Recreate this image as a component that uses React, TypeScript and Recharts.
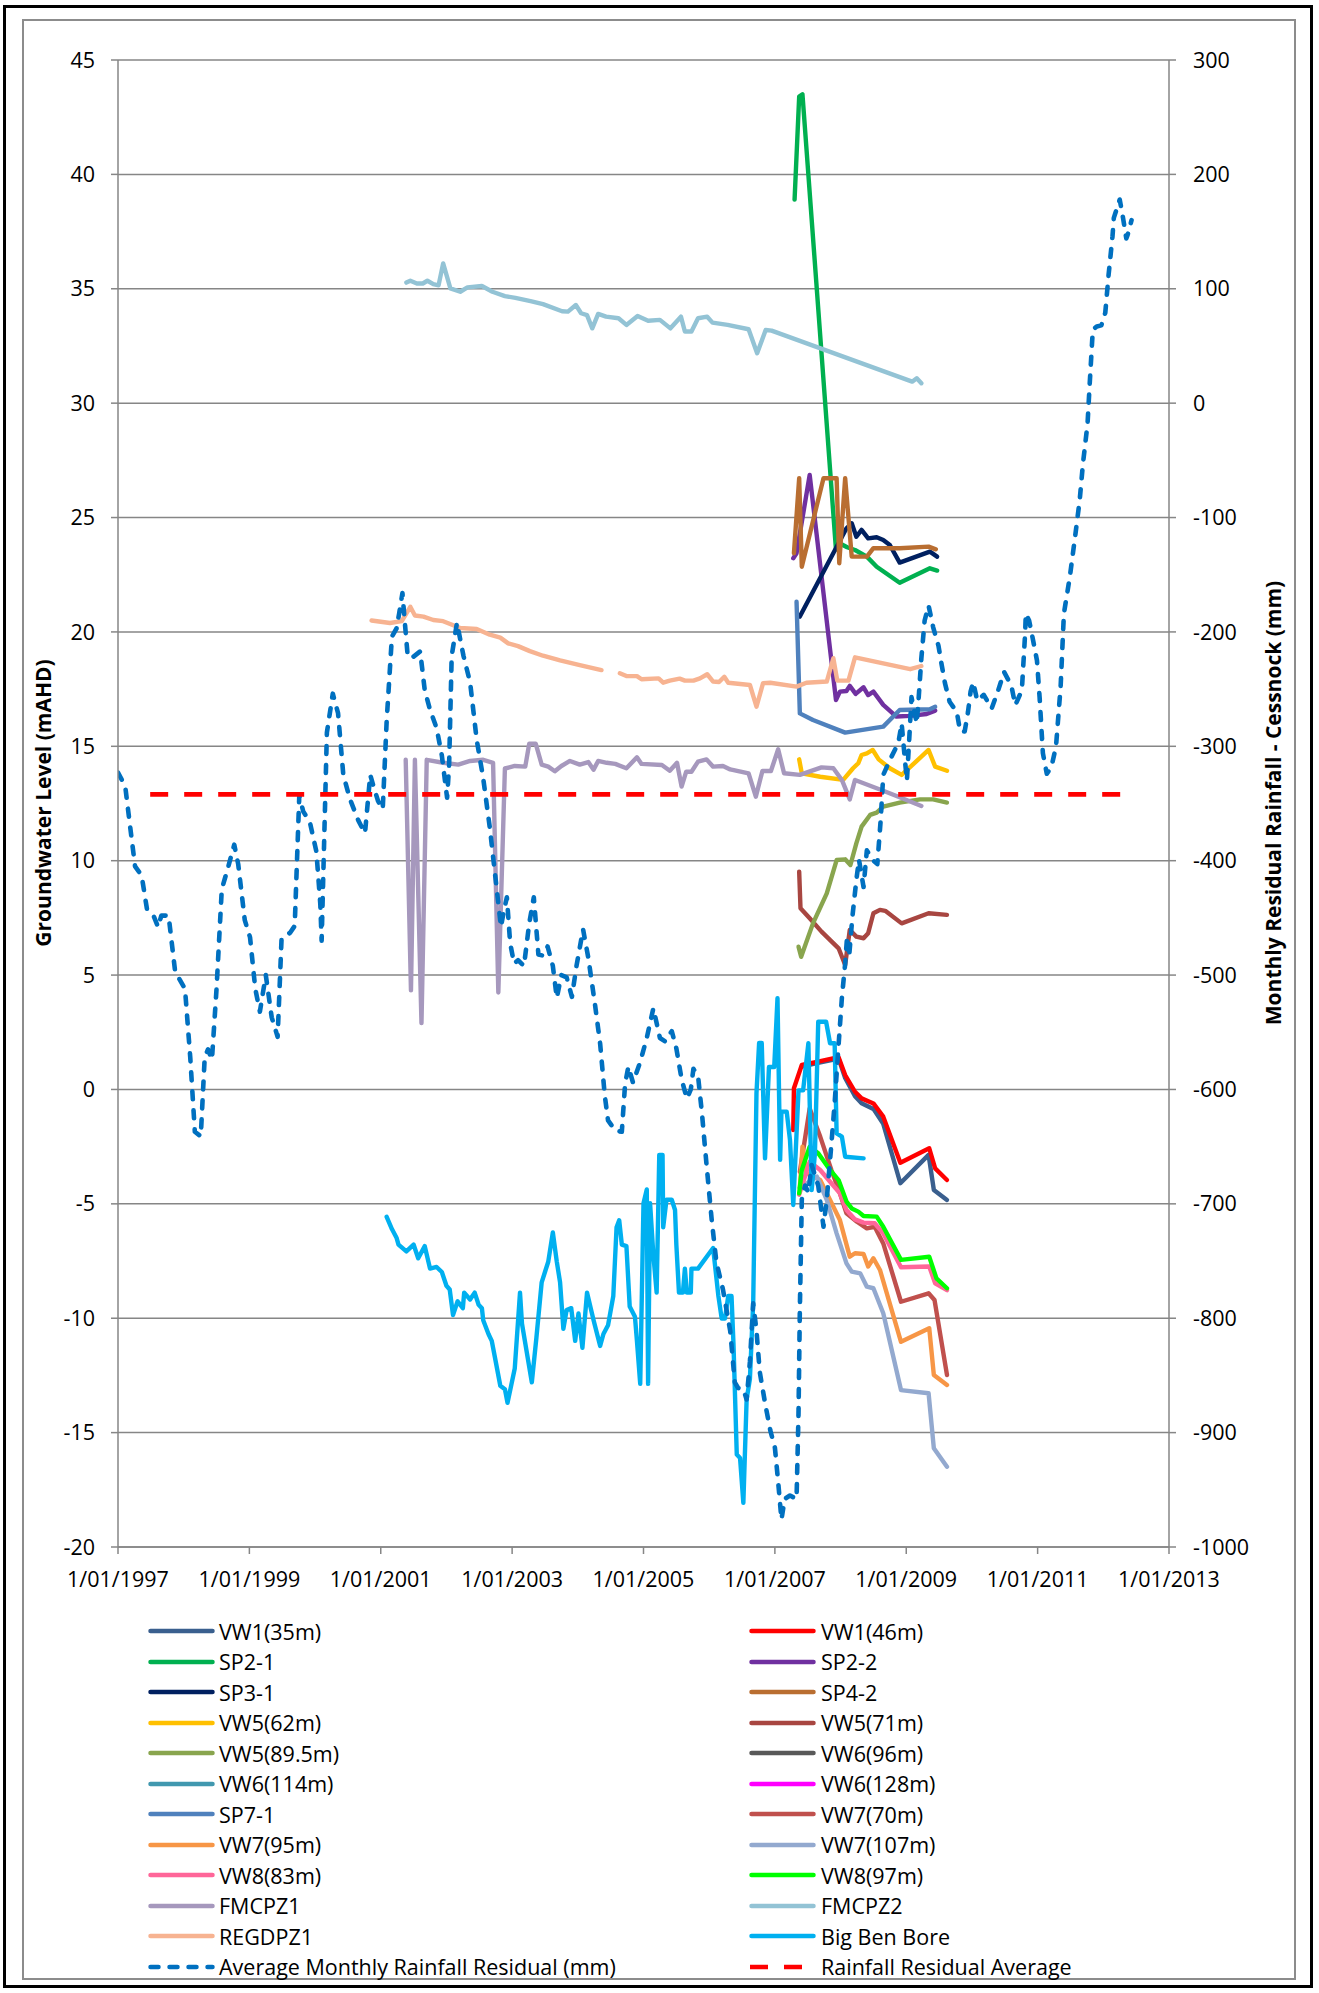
import React from 'react';
import { LineChart, Line, XAxis, YAxis, CartesianGrid } from 'recharts';

type Pt = [number, number | null];

// axis ticks
const yearTicks = [1997, 1999, 2001, 2003, 2005, 2007, 2009, 2011, 2013];
const levelTicks = [-20, -15, -10, -5, 0, 5, 10, 15, 20, 25, 30, 35, 40, 45];
const rainTicks = [-1000, -900, -800, -700, -600, -500, -400, -300, -200, -100, 0, 100, 200, 300];

// groundwater levels (mAHD), x = decimal year
const vw1_35: Pt[] = [[2007.41, 1.0], [2007.64, 1.15], [2007.97, 1.35], [2008.07, 0.5], [2008.22, -0.3], [2008.32, -0.6], [2008.5, -0.85], [2008.65, -1.5], [2008.91, -4.1], [2009.34, -2.86], [2009.42, -4.39], [2009.62, -4.83]];
const vw1_46: Pt[] = [[2007.28, -1.77], [2007.29, 0.05], [2007.41, 1.07], [2007.64, 1.21], [2007.97, 1.41], [2008.07, 0.63], [2008.22, -0.1], [2008.32, -0.39], [2008.5, -0.61], [2008.65, -1.19], [2008.91, -3.2], [2009.35, -2.57], [2009.44, -3.45], [2009.62, -3.96]];
const sp2_1: Pt[] = [[2007.3, 38.9], [2007.37, 43.4], [2007.42, 43.5], [2007.93, 23.6], [2007.97, 23.9], [2008.1, 23.7], [2008.22, 23.58], [2008.4, 23.29], [2008.55, 22.85], [2008.9, 22.15], [2009.36, 22.78], [2009.47, 22.68]];
const sp2_2: Pt[] = [[2007.28, 23.22], [2007.33, 23.44], [2007.53, 26.86], [2007.93, 17.02], [2007.99, 17.39], [2008.09, 17.42], [2008.14, 17.64], [2008.23, 17.29], [2008.35, 17.58], [2008.42, 17.24], [2008.5, 17.39], [2008.65, 16.81], [2008.85, 16.3], [2009.06, 16.33], [2009.31, 16.41], [2009.44, 16.56]];
const sp3_1: Pt[] = [[2007.38, 20.67], [2008.09, 24.53], [2008.17, 24.75], [2008.24, 24.16], [2008.32, 24.46], [2008.42, 24.09], [2008.55, 24.14], [2008.65, 24.02], [2008.75, 23.8], [2008.9, 23.03], [2009.36, 23.51], [2009.47, 23.29]];
const sp4_2: Pt[] = [[2007.29, 23.44], [2007.37, 26.72], [2007.41, 22.85], [2007.74, 26.72], [2007.94, 26.72], [2007.98, 23.0], [2008.07, 26.72], [2008.17, 23.29], [2008.4, 23.29], [2008.5, 23.66], [2008.9, 23.66], [2009.34, 23.73], [2009.45, 23.61]];
const vw5_62: Pt[] = [[2007.37, 14.43], [2007.41, 13.82], [2007.69, 13.67], [2008.04, 13.53], [2008.19, 14.04], [2008.27, 14.26], [2008.32, 14.62], [2008.4, 14.69], [2008.49, 14.84], [2008.58, 14.43], [2008.75, 14.04], [2008.93, 13.75], [2009.34, 14.84], [2009.44, 14.11], [2009.62, 13.93]];
const vw5_71: Pt[] = [[2007.37, 9.52], [2007.39, 7.92], [2007.53, 7.48], [2007.71, 6.9], [2007.97, 6.17], [2008.07, 5.44], [2008.14, 6.97], [2008.24, 6.68], [2008.35, 6.61], [2008.42, 6.83], [2008.5, 7.7], [2008.6, 7.85], [2008.68, 7.81], [2008.93, 7.26], [2009.34, 7.7], [2009.62, 7.63]];
const vw5_895: Pt[] = [[2007.36, 6.24], [2007.4, 5.8], [2007.58, 7.26], [2007.79, 8.57], [2007.94, 10.03], [2008.07, 10.06], [2008.15, 9.81], [2008.24, 10.76], [2008.32, 11.49], [2008.45, 12.0], [2008.55, 12.1], [2008.65, 12.36], [2008.9, 12.54], [2009.21, 12.68], [2009.41, 12.68], [2009.62, 12.54]];
const vw6_96: Pt[] = [];
const vw6_114: Pt[] = [];
const vw6_128: Pt[] = [];
const sp7_1: Pt[] = [[2007.33, 21.32], [2007.38, 16.44], [2007.58, 16.15], [2008.07, 15.6], [2008.65, 15.86], [2008.9, 16.59], [2009.36, 16.62], [2009.44, 16.73]];
const vw7_70: Pt[] = [[2007.38, -3.6], [2007.53, -0.83], [2007.69, -2.06], [2007.86, -3.52], [2007.99, -4.54], [2008.09, -5.41], [2008.25, -5.78], [2008.4, -6.07], [2008.52, -6.0], [2008.65, -6.73], [2008.92, -9.28], [2009.34, -8.91], [2009.43, -9.2], [2009.62, -12.48]];
const vw7_95: Pt[] = [[2007.38, -4.3], [2007.42, -2.5], [2007.48, -3.66], [2007.69, -3.96], [2007.84, -4.83], [2007.99, -5.71], [2008.14, -7.31], [2008.22, -7.16], [2008.35, -7.19], [2008.42, -7.74], [2008.5, -7.38], [2008.6, -7.89], [2008.92, -11.03], [2009.35, -10.44], [2009.42, -12.48], [2009.62, -12.92]];
const vw7_107: Pt[] = [[2007.38, -4.3], [2007.64, -3.81], [2007.79, -4.83], [2007.94, -6.29], [2008.09, -7.6], [2008.17, -7.96], [2008.3, -8.04], [2008.4, -8.62], [2008.5, -8.69], [2008.65, -9.78], [2008.92, -13.14], [2009.34, -13.28], [2009.42, -15.68], [2009.62, -16.49]];
const vw8_83: Pt[] = [[2007.37, -4.6], [2007.53, -3.16], [2007.69, -3.52], [2007.86, -4.1], [2007.99, -4.54], [2008.09, -5.27], [2008.22, -5.68], [2008.35, -5.82], [2008.52, -5.85], [2008.65, -6.29], [2008.92, -7.77], [2009.35, -7.74], [2009.44, -8.47], [2009.62, -8.77]];
const vw8_97: Pt[] = [[2007.37, -4.54], [2007.41, -3.52], [2007.53, -2.5], [2007.66, -2.79], [2007.84, -3.52], [2007.97, -3.96], [2008.09, -4.9], [2008.17, -5.2], [2008.27, -5.34], [2008.35, -5.53], [2008.55, -5.56], [2008.65, -6.0], [2008.92, -7.45], [2009.35, -7.31], [2009.46, -8.26], [2009.62, -8.69]];
const fmcpz1: Pt[] = [[2001.38, 14.41], [2001.46, 4.33], [2001.52, 14.41], [2001.62, 2.9], [2001.7, 14.41], [2001.95, 14.28], [2002.18, 14.2], [2002.36, 14.36], [2002.56, 14.41], [2002.71, 14.28], [2002.79, 4.24], [2002.89, 14.03], [2003.04, 14.14], [2003.2, 14.11], [2003.26, 15.11], [2003.36, 15.11], [2003.45, 14.2], [2003.55, 14.11], [2003.65, 13.91], [2003.75, 14.14], [2003.88, 14.36], [2004.03, 14.2], [2004.16, 14.31], [2004.24, 13.98], [2004.31, 14.36], [2004.44, 14.28], [2004.57, 14.23], [2004.74, 14.04], [2004.9, 14.52], [2004.97, 14.23], [2005.28, 14.18], [2005.4, 13.93], [2005.51, 14.28], [2005.58, 13.24], [2005.65, 13.89], [2005.73, 13.89], [2005.83, 14.33], [2005.96, 14.43], [2006.06, 14.11], [2006.21, 14.14], [2006.32, 13.99], [2006.6, 13.82], [2006.71, 12.8], [2006.81, 13.92], [2006.94, 13.92], [2007.05, 14.87], [2007.14, 13.82], [2007.38, 13.75], [2007.71, 14.08], [2007.89, 14.04], [2008.02, 13.53], [2008.14, 12.68], [2008.22, 13.53], [2008.65, 13.06], [2008.9, 12.77], [2009.23, 12.39]];
const fmcpz2: Pt[] = [[2001.39, 35.27], [2001.45, 35.35], [2001.55, 35.23], [2001.64, 35.23], [2001.71, 35.35], [2001.8, 35.2], [2001.88, 35.15], [2001.95, 36.11], [2002.06, 35.02], [2002.21, 34.87], [2002.32, 35.06], [2002.54, 35.12], [2002.7, 34.87], [2002.89, 34.68], [2003.05, 34.6], [2003.28, 34.46], [2003.47, 34.33], [2003.76, 34.02], [2003.85, 34.0], [2003.97, 34.29], [2004.05, 33.93], [2004.14, 33.85], [2004.22, 33.27], [2004.31, 33.9], [2004.43, 33.78], [2004.62, 33.71], [2004.74, 33.42], [2004.91, 33.81], [2005.07, 33.6], [2005.25, 33.64], [2005.41, 33.27], [2005.57, 33.78], [2005.63, 33.13], [2005.73, 33.13], [2005.83, 33.71], [2005.97, 33.78], [2006.05, 33.52], [2006.28, 33.42], [2006.6, 33.23], [2006.73, 32.18], [2006.86, 33.2], [2006.95, 33.17], [2009.09, 30.94], [2009.16, 31.09], [2009.23, 30.87]];
const regdpz1: Pt[] = [[2000.86, 20.5], [2001.14, 20.39], [2001.32, 20.47], [2001.45, 21.1], [2001.52, 20.72], [2001.65, 20.67], [2001.8, 20.52], [2001.95, 20.47], [2002.21, 20.17], [2002.46, 20.13], [2002.66, 19.88], [2002.82, 19.75], [2002.94, 19.5], [2003.09, 19.38], [2003.27, 19.16], [2003.47, 18.96], [2003.73, 18.76], [2004.03, 18.55], [2004.36, 18.33], [2004.5, null], [2004.64, 18.19], [2004.74, 18.07], [2004.9, 18.07], [2004.97, 17.93], [2005.23, 17.97], [2005.3, 17.78], [2005.4, 17.87], [2005.55, 17.96], [2005.63, 17.87], [2005.76, 17.87], [2005.86, 17.97], [2005.97, 18.15], [2006.06, 17.83], [2006.15, 17.81], [2006.23, 18.04], [2006.29, 17.78], [2006.62, 17.68], [2006.72, 16.73], [2006.82, 17.76], [2006.93, 17.78], [2007.33, 17.61], [2007.48, 17.78], [2007.79, 17.83], [2007.89, 18.85], [2007.95, 17.87], [2008.12, 17.87], [2008.22, 18.89], [2009.06, 18.37], [2009.23, 18.51]];
const bigBen: Pt[] = [[2001.09, -5.57], [2001.17, -6.1], [2001.24, -6.48], [2001.27, -6.78], [2001.39, -7.08], [2001.5, -6.78], [2001.57, -7.38], [2001.67, -6.85], [2001.75, -7.83], [2001.85, -7.76], [2001.93, -7.98], [2002.0, -8.58], [2002.05, -8.74], [2002.1, -9.86], [2002.17, -9.26], [2002.25, -9.56], [2002.27, -8.88], [2002.36, -9.18], [2002.43, -8.88], [2002.49, -9.41], [2002.54, -9.56], [2002.56, -10.09], [2002.64, -10.69], [2002.69, -10.99], [2002.74, -11.74], [2002.82, -12.95], [2002.89, -13.1], [2002.93, -13.7], [2003.04, -12.2], [2003.12, -8.88], [2003.15, -10.24], [2003.3, -12.8], [2003.37, -10.84], [2003.45, -8.43], [2003.5, -7.98], [2003.55, -7.53], [2003.62, -6.25], [2003.68, -7.53], [2003.73, -8.43], [2003.78, -10.46], [2003.83, -9.64], [2003.9, -9.56], [2003.96, -10.99], [2004.01, -9.79], [2004.07, -11.29], [2004.14, -8.88], [2004.24, -10.09], [2004.34, -11.21], [2004.39, -10.69], [2004.46, -10.31], [2004.54, -9.03], [2004.59, -6.02], [2004.63, -5.72], [2004.67, -6.78], [2004.74, -6.85], [2004.79, -9.49], [2004.87, -9.94], [2004.9, -10.99], [2004.95, -12.87], [2005.0, -4.97], [2005.05, -4.37], [2005.07, -12.87], [2005.1, -4.97], [2005.15, -7.23], [2005.2, -8.88], [2005.24, -2.86], [2005.29, -2.86], [2005.3, -6.02], [2005.35, -4.82], [2005.43, -4.82], [2005.48, -5.27], [2005.5, -6.78], [2005.54, -8.88], [2005.6, -8.88], [2005.63, -7.83], [2005.66, -8.88], [2005.72, -8.88], [2005.73, -7.83], [2005.83, -7.83], [2006.06, -6.93], [2006.14, -9.03], [2006.19, -10.01], [2006.24, -10.01], [2006.29, -9.03], [2006.34, -9.03], [2006.37, -11.14], [2006.42, -15.96], [2006.47, -16.11], [2006.52, -18.07], [2006.57, -13.55], [2006.62, -12.65], [2006.67, -9.33], [2006.72, -0.15], [2006.76, 2.03], [2006.8, 2.03], [2006.85, -3.01], [2006.91, 0.98], [2006.99, 0.98], [2007.04, 3.99], [2007.08, -3.08], [2007.1, -0.97], [2007.18, -0.97], [2007.23, -2.21], [2007.28, -5.05], [2007.36, -0.04], [2007.43, -0.04], [2007.51, 2.02], [2007.56, -4.4], [2007.61, -2.79], [2007.66, 2.96], [2007.78, 2.96], [2007.84, 2.02], [2007.91, 2.02], [2007.94, -1.92], [2008.02, -2.06], [2008.07, -2.94], [2008.35, -3.01]];

// rainfall residual (mm), right axis
const rainResidual: Pt[] = [[1997.0, -323], [1997.11, -335], [1997.18, -368], [1997.26, -405], [1997.36, -413], [1997.44, -442], [1997.54, -448], [1997.61, -458], [1997.66, -448], [1997.77, -448], [1997.87, -497], [1998.02, -512], [1998.1, -572], [1998.17, -637], [1998.26, -641], [1998.32, -572], [1998.37, -565], [1998.43, -574], [1998.5, -512], [1998.58, -425], [1998.68, -405], [1998.77, -386], [1998.83, -403], [1998.93, -452], [1999.01, -467], [1999.09, -512], [1999.16, -532], [1999.25, -500], [1999.34, -537], [1999.43, -554], [1999.49, -468], [1999.62, -463], [1999.69, -457], [1999.76, -343], [1999.82, -357], [1999.92, -366], [2000.02, -392], [2000.08, -438], [2000.1, -470], [2000.13, -402], [2000.18, -288], [2000.27, -254], [2000.35, -271], [2000.43, -325], [2000.53, -346], [2000.66, -365], [2000.76, -376], [2000.84, -325], [2000.89, -335], [2000.96, -348], [2001.03, -355], [2001.09, -278], [2001.17, -204], [2001.24, -197], [2001.28, -184], [2001.33, -166], [2001.37, -194], [2001.41, -221], [2001.47, -223], [2001.6, -217], [2001.67, -251], [2001.75, -268], [2001.85, -284], [2001.93, -308], [2002.01, -345], [2002.04, -318], [2002.08, -221], [2002.16, -192], [2002.26, -221], [2002.36, -244], [2002.46, -294], [2002.56, -328], [2002.66, -371], [2002.76, -422], [2002.83, -458], [2002.87, -445], [2002.92, -432], [2002.97, -472], [2003.03, -490], [2003.09, -487], [2003.18, -492], [2003.26, -455], [2003.33, -432], [2003.4, -482], [2003.47, -483], [2003.54, -475], [2003.62, -492], [2003.68, -520], [2003.75, -500], [2003.83, -502], [2003.91, -519], [2003.98, -492], [2004.08, -460], [2004.16, -485], [2004.26, -525], [2004.34, -560], [2004.41, -605], [2004.46, -627], [2004.57, -636], [2004.67, -637], [2004.72, -595], [2004.77, -580], [2004.84, -594], [2004.95, -576], [2005.05, -555], [2005.15, -529], [2005.25, -555], [2005.33, -558], [2005.43, -549], [2005.5, -564], [2005.58, -591], [2005.66, -608], [2005.72, -600], [2005.76, -582], [2005.83, -588], [2005.89, -621], [2005.96, -666], [2006.04, -715], [2006.11, -751], [2006.21, -775], [2006.32, -811], [2006.39, -856], [2006.44, -861], [2006.52, -862], [2006.57, -871], [2006.62, -838], [2006.67, -787], [2006.72, -811], [2006.77, -847], [2006.85, -874], [2006.93, -898], [2007.0, -913], [2007.05, -943], [2007.1, -976], [2007.15, -958], [2007.23, -955], [2007.33, -958], [2007.36, -883], [2007.38, -793], [2007.41, -696], [2007.46, -684], [2007.51, -690], [2007.56, -666], [2007.66, -684], [2007.74, -720], [2007.79, -696], [2007.86, -648], [2007.91, -612], [2007.97, -561], [2008.02, -520], [2008.07, -490], [2008.1, -466], [2008.13, -484], [2008.18, -449], [2008.24, -417], [2008.28, -399], [2008.35, -423], [2008.4, -391], [2008.5, -400], [2008.56, -403], [2008.61, -365], [2008.65, -325], [2008.75, -312], [2008.88, -297], [2008.93, -280], [2008.98, -312], [2009.01, -330], [2009.05, -289], [2009.08, -257], [2009.16, -280], [2009.19, -257], [2009.23, -223], [2009.28, -190], [2009.34, -177], [2009.41, -196], [2009.49, -212], [2009.54, -229], [2009.59, -245], [2009.66, -261], [2009.77, -270], [2009.82, -287], [2009.89, -287], [2009.94, -270], [2009.98, -252], [2010.02, -244], [2010.08, -260], [2010.18, -255], [2010.3, -267], [2010.4, -251], [2010.49, -235], [2010.6, -247], [2010.66, -264], [2010.76, -251], [2010.81, -201], [2010.82, -184], [2010.87, -190], [2010.93, -207], [2010.99, -225], [2011.03, -257], [2011.08, -306], [2011.14, -324], [2011.21, -318], [2011.28, -300], [2011.35, -248], [2011.4, -184], [2011.49, -152], [2011.57, -117], [2011.64, -85], [2011.69, -53], [2011.76, -18], [2011.79, 14], [2011.84, 64], [2011.9, 67], [2011.97, 68], [2012.03, 79], [2012.08, 112], [2012.14, 146], [2012.16, 162], [2012.25, 178], [2012.3, 162], [2012.35, 144], [2012.37, 147], [2012.43, 160]];
const rainAverage: Pt[] = [[1997.49, -342], [2012.5, -342]];

const series = [
  { name: 'VW1(35m)', data: vw1_35, color: '#3A5F8E', axis: 'left' },
  { name: 'VW1(46m)', data: vw1_46, color: '#FF0000', axis: 'left' },
  { name: 'SP2-1', data: sp2_1, color: '#00B050', axis: 'left' },
  { name: 'SP2-2', data: sp2_2, color: '#7030A0', axis: 'left' },
  { name: 'SP3-1', data: sp3_1, color: '#002060', axis: 'left' },
  { name: 'SP4-2', data: sp4_2, color: '#B96E31', axis: 'left' },
  { name: 'VW5(62m)', data: vw5_62, color: '#FFC000', axis: 'left' },
  { name: 'VW5(71m)', data: vw5_71, color: '#A84641', axis: 'left' },
  { name: 'VW5(89.5m)', data: vw5_895, color: '#89A54E', axis: 'left' },
  { name: 'VW6(96m)', data: vw6_96, color: '#595959', axis: 'left' },
  { name: 'VW6(114m)', data: vw6_114, color: '#4198AF', axis: 'left' },
  { name: 'VW6(128m)', data: vw6_128, color: '#FF00FF', axis: 'left' },
  { name: 'SP7-1', data: sp7_1, color: '#4F81BD', axis: 'left' },
  { name: 'VW7(70m)', data: vw7_70, color: '#C0504D', axis: 'left' },
  { name: 'VW7(95m)', data: vw7_95, color: '#F79646', axis: 'left' },
  { name: 'VW7(107m)', data: vw7_107, color: '#93A9CF', axis: 'left' },
  { name: 'VW8(83m)', data: vw8_83, color: '#FF6699', axis: 'left' },
  { name: 'VW8(97m)', data: vw8_97, color: '#00FF00', axis: 'left' },
  { name: 'FMCPZ1', data: fmcpz1, color: '#A698BD', axis: 'left' },
  { name: 'FMCPZ2', data: fmcpz2, color: '#93C3D5', axis: 'left' },
  { name: 'REGDPZ1', data: regdpz1, color: '#F7B391', axis: 'left' },
  { name: 'Big Ben Bore', data: bigBen, color: '#00B0F0', axis: 'left' },
  { name: 'Average Monthly Rainfall Residual (mm)', data: rainResidual, color: '#0070C0', axis: 'right', dash: '8 11', cap: 'round' },
  { name: 'Rainfall Residual Average', data: rainAverage, color: '#FF0000', axis: 'right', dash: '18 16', cap: 'butt' },
];

const FONT = '"Open Sans", sans-serif';
const AXIS_GRAY = '#868686';
const tickStyle = { fill: '#000', fontSize: 21.5, fontFamily: FONT };

const toRows = (pts: Pt[]) => pts.map(([x, y]) => ({ x, y }));

const LegendRow = ({ s, i }: { s: (typeof series)[number]; i: number }) => {
  const col = i % 2;
  const row = Math.floor(i / 2);
  const left = col === 0 ? 148 : 749;
  const cy = 1631 + row * 30.5;
  return (
    <div style={{ position: 'absolute', left, top: cy - 15, height: 30, display: 'flex', alignItems: 'center', whiteSpace: 'nowrap' }}>
      <svg width={67} height={10} style={{ display: 'block' }}>
        <line
          x1={s.cap === 'butt' ? 1 : 2.5}
          x2={s.cap === 'butt' ? 67 : 64.5}
          y1={5}
          y2={5}
          stroke={s.color}
          strokeWidth={4.5}
          strokeDasharray={s.dash}
          strokeLinecap={(s.cap as any) || 'round'}
        />
      </svg>
      <span style={{ marginLeft: col === 0 ? 4 : 5, fontSize: 21.5, fontFamily: FONT, color: '#000' }}>{s.name}</span>
    </div>
  );
};

export default function App() {
  return (
    <div style={{ position: 'absolute', left: 0, top: 0, width: 1319, height: 1993, background: '#fff', fontFamily: FONT, overflow: 'hidden' }}>
      <div style={{ position: 'absolute', left: 3, top: 5, width: 1310, height: 1983, border: '3px solid #000', boxSizing: 'border-box' }} />
      <div style={{ position: 'absolute', left: 22, top: 19, width: 1274, height: 1961, border: '2px solid #8c8c8c', boxSizing: 'border-box' }} />

      <div style={{ position: 'absolute', left: 0, top: 0 }}>
        <LineChart width={1319} height={1993} margin={{ top: 60, right: 90, bottom: 406, left: 58 }}>
          <CartesianGrid yAxisId="left" vertical={false} stroke={AXIS_GRAY} strokeWidth={1.5} />
          <XAxis
            type="number"
            dataKey="x"
            domain={[1997, 2013]}
            ticks={yearTicks}
            interval={0}
            allowDataOverflow
            height={40}
            tickFormatter={(v: number) => `1/01/${v}`}
            axisLine={{ stroke: AXIS_GRAY, strokeWidth: 1.5 }}
            tickLine={{ stroke: AXIS_GRAY, strokeWidth: 1.5 }}
            tickSize={7}
            tickMargin={18}
            tick={tickStyle}
          />
          <YAxis
            yAxisId="left"
            orientation="left"
            type="number"
            domain={[-20, 45]}
            ticks={levelTicks}
            interval={0}
            allowDataOverflow
            width={60}
            axisLine={{ stroke: AXIS_GRAY, strokeWidth: 1.5 }}
            tickLine={{ stroke: AXIS_GRAY, strokeWidth: 1.5 }}
            tickSize={7}
            tickMargin={16}
            tick={tickStyle}
          />
          <YAxis
            yAxisId="right"
            orientation="right"
            type="number"
            domain={[-1000, 300]}
            ticks={rainTicks}
            interval={0}
            allowDataOverflow
            width={60}
            axisLine={{ stroke: AXIS_GRAY, strokeWidth: 1.5 }}
            tickLine={{ stroke: AXIS_GRAY, strokeWidth: 1.5 }}
            tickSize={7}
            tickMargin={17}
            tick={{ ...tickStyle, textAnchor: 'start' }}
          />
          {series.map((s) => (
            <Line
              key={s.name}
              name={s.name}
              yAxisId={s.axis}
              data={toRows(s.data)}
              dataKey="y"
              type="linear"
              stroke={s.color}
              strokeWidth={s.dash ? 4.6 : 4.4}
              strokeDasharray={s.dash}
              strokeLinecap={(s.cap as any) || 'round'}
              strokeLinejoin="round"
              dot={false}
              activeDot={false}
              isAnimationActive={false}
            />
          ))}
        </LineChart>
      </div>

      <div style={{ position: 'absolute', left: 43, top: 803, transform: 'translate(-50%, -50%) rotate(-90deg)', whiteSpace: 'nowrap', fontWeight: 700, fontSize: 21, color: '#000' }}>
        Groundwater Level (mAHD)
      </div>
      <div style={{ position: 'absolute', left: 1273, top: 803, transform: 'translate(-50%, -50%) rotate(-90deg)', whiteSpace: 'nowrap', fontWeight: 700, fontSize: 21, color: '#000' }}>
        Monthly Residual Rainfall - Cessnock (mm)
      </div>

      {series.map((s, i) => (
        <LegendRow key={s.name} s={s} i={i} />
      ))}
    </div>
  );
}
